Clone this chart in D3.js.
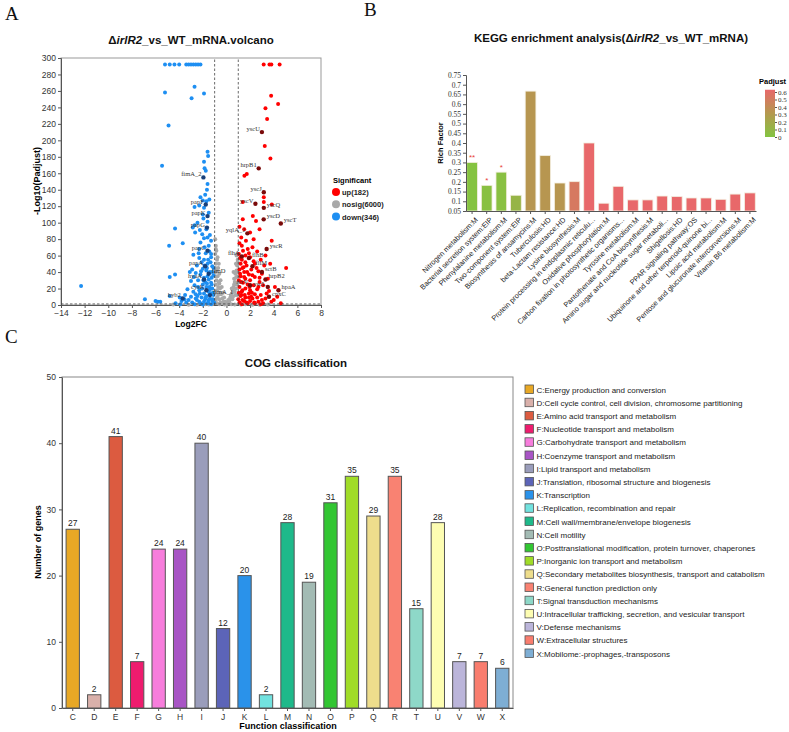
<!DOCTYPE html>
<html>
<head>
<meta charset="utf-8">
<script src="https://cdn.jsdelivr.net/npm/d3@7/dist/d3.min.js"></script>
<style>
body { margin: 0; background: #fff; }
svg { display: block; font-family: Arial, "Liberation Sans", sans-serif; }
</style>
</head>
<body>
<svg id="chart"></svg>
<script>

const W = 789;
const H = 732;

// ---------- data: A (volcano) ----------

const volXTicks = [-14, -12, -10, -8, -6, -4, -2, 0, 2, 4, 6, 8];
const volYTicks = [0, 20, 40, 60, 80, 100, 120, 140, 160, 180, 200, 220, 240, 260, 280, 300];

const downPts = [
    [-5.2,292],[-4.8,292],[-4.4,292],[-4.0,292],[-3.4,292],[-3.2,292],[-3.0,292],[-2.8,292],[-2.6,292],[-2.4,292],[-2.2,292],
    [-5.2,258],[-2.7,265],[-2.95,251],[-1.9,257],[-4.9,218],[-1.6,186],[-1.55,181],[-1.9,174],[-5.45,169],[-1.85,166],
    [-1.75,163],[-1.6,147],[-1.8,134],[-1.45,128],[-2.0,127],[-1.7,126],[-2.7,119],[-2.3,121],[-1.9,118],[-2.0,110],
    [-1.95,105],[-1.6,101],[-2.7,97],[-2.85,94],[-4.35,93],[-2.25,91],[-2.65,88],[-1.6,82],[-1.9,81],[-1.4,85],
    [-3.7,75],[-2.2,76],[-4.85,72],[-1.5,72],[-2.3,68],[-1.75,63],[-1.45,65],[-2.8,61],[-2.3,57],[-1.9,55],[-1.3,58],
    [-2.1,52],[-1.6,50],[-2.5,48],[-1.2,47],[-2.9,43],[-2.0,44],[-1.7,42],[-1.4,40],[-3.1,40],[-2.6,39],[-2.2,37],
    [-1.1,36],[-4.35,37],[-4.8,34],[-1.9,33],[-1.5,31],[-2.4,30],[-3.0,29],[-1.3,27],[-2.0,25],[-2.7,24],[-1.7,22],
    [-1.2,20],[-12.3,23],[-3.3,19],[-2.3,18],[-1.5,16],[-1.9,14],[-2.6,13],[-1.1,12],[-4.8,11],[-3.0,10],[-2.1,9],
    [-3.95,9],[-1.4,8],[-1.8,7],[-6.9,7],[-3.55,7],[-2.5,6],[-1.2,5],[-6.0,5],[-5.8,4],[-5.6,4],[-3.8,5],[-3.4,3],
    [-2.9,3],[-2.2,2],[-1.6,2],[-4.3,2],[-1.3,1],[-2.7,1],[-3.9,1],[-2.0,0.5],[-1.05,3],[-1.15,15],[-1.25,25],
    [-1.1,45],[-1.35,52],[-1.6,35],[-1.8,28],[-2.4,22],[-1.4,19],[-2.8,16],[-3.5,12],[-1.7,11],[-2.3,4],[-1.5,6],
    [-1.3,62],[-1.55,55],[-1.85,48],[-2.15,41],[-1.25,33],[-1.65,26],[-2.05,20],[-1.35,14],[-1.75,9],[-2.45,11],
    [-1.15,7],[-1.55,3],[-2.6,8],[-3.2,6],[-1.9,4],[-2.25,14],[-1.45,22],[-1.95,30],[-2.75,34],[-1.2,40],
    [-1.65,45],[-2.35,63],[-1.85,70],[-1.3,78],[-2.05,86],[-1.7,92],[-2.45,100],[-1.5,112],[-2.2,131],[-1.65,140]
];

const upPts = [
    [3.15,292],[3.64,292],[3.8,292],[4.5,292],[3.78,254],[4.37,244],[3.3,239],[3.44,226],[3.24,193],[3.72,178],
    [1.72,159],[1.52,157],[3.84,122],[3.16,131],[3.16,125],[1.38,125],[2.23,108],[2.5,102],[1.38,104],[1.5,92],[3.83,78],
    [1.1,75],[1.3,72],[1.8,68],[2.2,70],[2.6,65],[1.05,62],[1.6,60],[2.0,58],[2.9,55],[1.3,55],[1.2,50],[2.4,50],
    [1.7,48],[3.2,48],[5.05,45],[1.1,43],[2.1,43],[2.7,41],[1.5,40],[1.9,37],[3.0,38],[1.2,35],[2.4,34],[1.6,32],
    [3.5,32],[1.05,30],[2.0,30],[2.8,28],[1.4,27],[1.8,25],[2.3,24],[3.1,24],[4.1,22],[1.1,22],[1.6,20],[2.6,19],
    [2.0,18],[3.6,17],[1.3,16],[1.9,14],[2.4,13],[2.9,12],[4.3,10],[1.2,11],[1.6,9],[2.2,8],[3.3,8],[1.0,7],
    [1.5,5],[2.0,5],[2.7,4],[3.8,4],[1.1,3],[1.8,2],[2.4,2],[3.1,2],[4.6,2],[1.3,1],[2.9,1],[1.15,38],[1.45,46],
    [2.8,33],[1.25,12],[3.4,14],[2.1,10],[1.7,3],[4.0,6],
    [1.4,66],[1.9,63],[1.15,57],[2.3,53],[1.6,52],[1.35,45],[2.55,45],[1.75,40],[1.25,28],[2.2,36],[1.5,34],
    [1.95,22],[2.7,22],[1.35,18],[2.15,15],[1.55,12],[1.05,15],[1.9,9],[2.6,9],[1.35,6],[2.35,3],[3.0,6],
    [1.25,82],[1.65,78],[2.0,88],[2.8,92],[1.1,95],[2.3,80],[3.3,60],[3.7,50]
];

const nosigPts = [
    [-0.95,80],[-0.9,72],[-0.85,66],[-0.95,62],[-0.8,55],[-0.9,50],[-0.7,45],[-0.85,42],[-0.6,38],[-0.75,35],
    [-0.5,30],[-0.65,28],[-0.9,25],[-0.4,22],[-0.55,20],[-0.8,18],[-0.3,15],[-0.45,13],[-0.7,12],[-0.2,9],
    [-0.35,8],[-0.6,7],[-0.9,6],[-0.1,4],[-0.25,4],[-0.5,3],[-0.8,2],[0,1],[0.1,3],[0.25,5],[0.15,6],[0.35,10],
    [0.3,8],[0.45,14],[0.55,18],[0.4,12],[0.6,22],[0.7,28],[0.65,25],[0.8,33],[0.75,38],[0.85,42],[0.9,48],
    [0.95,55],[0.85,60],[0.95,52],[0.7,16],[0.5,7],[0.9,12],[0.8,20],[-0.95,35],[-0.95,15],[-1.2,1],[-1.5,0.5],
    [-2.5,0.3],[-3.2,0.2],[1.2,0.5],[1.6,0.8],[2.2,0.4],[2.8,0.3],[3.5,0.5],[-0.15,0.5],[0.4,1],[-0.6,0.8],
    [0.7,0.6],[-4.5,0.6],[-1.8,0.8],[-0.75,58],[-0.9,68],[0.9,35],[-0.65,50],[0.6,40],[0.2,2],[-0.3,2],
    [-0.85,30],[-0.7,22],[-0.55,14],[-0.8,9],[0.55,10],[0.75,12],[0.85,25],[0.65,32],[0.95,40],[-0.9,40],
    [-0.95,45],[0.9,62],[0.8,50],[-0.6,26],[0.45,20]
];

const upGenes = ["yscU", "hrpB1", "yscJ", "yscV", "yscQ", "yscD", "yscT", "yqlA_1", "yscR", "flhA", "flhB", "fliM", "sctB", "hrpB2", "sctV", "yscL", "hpaA", "cpxC"];
const upGeneX = [3.0, 2.73, 3.16, 2.45, 3.16, 3.15, 4.6, 1.77, 3.4, 1.3, 1.9, 2.2, 3.0, 3.3, 2.0, 3.5, 4.4, 3.6];
const upGeneY = [210, 166, 137, 123, 118, 104, 99, 87, 68, 59, 57, 47, 40, 31, 24, 22, 18, 10];
const upGeneSide = ["L", "L", "L", "L", "R", "R", "R", "L", "R", "L", "R", "R", "R", "R", "L", "L", "R", "R"];

const downGenes = ["fimA_2", "papF", "papK", "papG", "papC", "papA", "fimD", "hyaA", "cysK", "fimA_1", "hyb2"];
const downGeneX = [-1.95, -1.75, -1.6, -1.65, -1.6, -1.8, -1.5, -1.9, -1.7, -1.4, -3.7];
const downGeneY = [155, 122, 108, 94, 66, 47, 38, 31, 18, 12, 8];
const downGeneSide = ["L", "L", "L", "L", "L", "L", "R", "L", "L", "R", "L"];

const sigNames = ["up(182)", "nosig(6000)", "down(346)"];
const sigColors = ["#ff0000", "#a9a9a9", "#1e8ff2"];

// ---------- data: B (KEGG) ----------

const keggTerms = [
    "Nitrogen metabolism:M",
    "Bacterial secretion system:EIP",
    "Phenylalanine metabolism:M",
    "Two-component system:EIP",
    "Biosynthesis of ansamycins:M",
    "Tuberculosis:HD",
    "beta-Lactam resistance:HD",
    "Lysine biosynthesis:M",
    "Protein processing in endoplasmic reticulu...",
    "Oxidative phosphorylation:M",
    "Carbon fixation in photosynthetic organisms...",
    "Tyrosine metabolism:M",
    "Pantothenate and CoA biosynthesis:M",
    "Amino sugar and nucleotide sugar metaboli...",
    "Shigellosis:HD",
    "PPAR signaling pathway:OS",
    "Ubiquinone and other terpenoid-quinone bi...",
    "Lipoic acid metabolism:M",
    "Pentose and glucuronate interconversions:M",
    "Vitamin B6 metabolism:M"
];
const richFactor = [0.30, 0.182, 0.25, 0.131, 0.667, 0.335, 0.194, 0.201, 0.40, 0.09, 0.177, 0.107, 0.107, 0.127, 0.124, 0.117, 0.117, 0.11, 0.137, 0.143];
const padjust = [0.004, 0.03, 0.03, 0.12, 0.33, 0.33, 0.33, 0.52, 0.63, 0.63, 0.63, 0.63, 0.63, 0.63, 0.63, 0.63, 0.63, 0.63, 0.63, 0.63];
const stars = ["**", "*", "*", "", "", "", "", "", "", "", "", "", "", "", "", "", "", "", "", ""];
const richTicks = [0.05, 0.1, 0.15, 0.2, 0.25, 0.3, 0.35, 0.4, 0.45, 0.5, 0.55, 0.6, 0.65, 0.7, 0.75];
const padjTicks = [0, 0.1, 0.2, 0.3, 0.4, 0.5, 0.6];

// ---------- data: C (COG) ----------

const cogCodes = ["C", "D", "E", "F", "G", "H", "I", "J", "K", "L", "M", "N", "O", "P", "Q", "R", "T", "U", "V", "W", "X"];
const cogCounts = [27, 2, 41, 7, 24, 24, 40, 12, 20, 2, 28, 19, 31, 35, 29, 35, 15, 28, 7, 7, 6];
const cogColors = ["#e8a825", "#d9b0aa", "#dc5b40", "#ee1c6e", "#f77ddc", "#a855c5", "#9a9dbb", "#5c64b8", "#2a92ea", "#72e2df",
    "#1eb98a", "#a3bbb4", "#32c632", "#a0dc28", "#eedd8c", "#f98272", "#8ed8c8", "#fdfdb2", "#bbb5da", "#f97d6e", "#7eaed4"];
const cogLabels = [
    "C:Energy production and conversion",
    "D:Cell cycle control, cell division, chromosome partitioning",
    "E:Amino acid transport and metabolism",
    "F:Nucleotide transport and metabolism",
    "G:Carbohydrate transport and metabolism",
    "H:Coenzyme transport and metabolism",
    "I:Lipid transport and metabolism",
    "J:Translation, ribosomal structure and biogenesis",
    "K:Transcription",
    "L:Replication, recombination and repair",
    "M:Cell wall/membrane/envelope biogenesis",
    "N:Cell motility",
    "O:Posttranslational modification, protein turnover, chaperones",
    "P:Inorganic ion transport and metabolism",
    "Q:Secondary metabolites biosynthesis, transport and catabolism",
    "R:General function prediction only",
    "T:Signal transduction mechanisms",
    "U:Intracellular trafficking, secretion, and vesicular transport",
    "V:Defense mechanisms",
    "W:Extracellular structures",
    "X:Mobilome:-prophages,-transposons"
];
const cogTicks = [0, 10, 20, 30, 40, 50];

const svg = d3.select("#chart")
    .attr("width", W)
    .attr("height", H)
    .attr("viewBox", `0 0 ${W} ${H}`);

// panel letters
[["A", 5, 20], ["B", 364, 16], ["C", 5, 343]].forEach(p => {
    svg.append("text")
        .attr("x", p[1])
        .attr("y", p[2])
        .attr("font-family", "'Liberation Serif', 'Times New Roman', serif")
        .attr("font-size", 19)
        .attr("fill", "#111")
        .text(p[0]);
});

function styleAxis(sel, size) {
    sel.select(".domain").attr("stroke", "#555");
    sel.selectAll(".tick line").attr("stroke", "#555");
    sel.selectAll(".tick text")
        .attr("fill", "#333")
        .attr("font-size", size);
}

// =============== A: volcano ===============

const volX = d3.scaleLinear().domain([-14, 8]).range([61, 321]);
const volY = d3.scaleLinear().domain([0, 300]).range([305, 58]);

const gA = svg.append("g");

// Title
const tA = gA.append("text")
    .attr("x", 191)
    .attr("y", 44)
    .attr("text-anchor", "middle")
    .attr("font-size", 11.5)
    .attr("font-weight", "bold")
    .attr("fill", "#111");
tA.append("tspan").text("Δ");
tA.append("tspan").attr("font-style", "italic").text("irlR2");
tA.append("tspan").text("_vs_WT_mRNA.volcano");

// Frame
gA.append("rect")
    .attr("x", volX.range()[0])
    .attr("y", volY.range()[1])
    .attr("width", volX.range()[1] - volX.range()[0])
    .attr("height", volY.range()[0] - volY.range()[1])
    .attr("fill", "none")
    .attr("stroke", "#999");

// Axis X
gA.append("g")
    .attr("transform", `translate(0,${volY.range()[0]})`)
    .call(d3.axisBottom(volX).tickValues(volXTicks).tickSize(3).tickPadding(2))
    .call(s => styleAxis(s, 8.5));

// Axis Y
gA.append("g")
    .attr("transform", `translate(${volX.range()[0]},0)`)
    .call(d3.axisLeft(volY).tickValues(volYTicks).tickSize(3).tickPadding(2))
    .call(s => styleAxis(s, 8.5));

// Labels
gA.append("text")
    .attr("x", 191)
    .attr("y", 327)
    .attr("text-anchor", "middle")
    .attr("font-size", 8.5)
    .attr("font-weight", "bold")
    .text("Log2FC");

gA.append("text")
    .attr("transform", "rotate(-90)")
    .attr("x", -181)
    .attr("y", 40)
    .attr("text-anchor", "middle")
    .attr("font-size", 9)
    .attr("font-weight", "bold")
    .text("-Log10(Padjust)");

// Points
const pointSets = [[nosigPts, sigColors[1]], [upPts, sigColors[0]], [downPts, sigColors[2]]];
pointSets.forEach(ps => {
    gA.append("g")
        .selectAll("circle")
        .data(ps[0])
        .enter()
        .append("circle")
        .attr("cx", d => volX(d[0]))
        .attr("cy", d => volY(d[1]))
        .attr("r", 2)
        .attr("fill", ps[1]);
});

// Threshold lines
const dashStyle = s => s.attr("stroke", "#444").attr("stroke-width", 0.8).attr("stroke-dasharray", "2.5,2");
[-1, 1].forEach(v => {
    gA.append("line")
        .attr("x1", volX(v)).attr("x2", volX(v))
        .attr("y1", volY(0)).attr("y2", volY(300))
        .call(dashStyle);
});
gA.append("line")
    .attr("x1", volX(-14)).attr("x2", volX(8))
    .attr("y1", volY(-Math.log10(0.05))).attr("y2", volY(-Math.log10(0.05)))
    .call(dashStyle);

// Labeled genes
function geneLabels(names, xs, ys, sides, col) {
    names.forEach((n, i) => {
        const px = volX(xs[i]);
        const py = volY(ys[i]);
        gA.append("circle")
            .attr("cx", px).attr("cy", py)
            .attr("r", 2.2)
            .attr("fill", col);
        gA.append("text")
            .attr("x", sides[i] === "L" ? px - 2 : px + 3)
            .attr("y", py - 1)
            .attr("text-anchor", sides[i] === "L" ? "end" : "start")
            .attr("font-family", "'Liberation Serif', 'Times New Roman', serif")
            .attr("font-size", 6.5)
            .attr("fill", "#333")
            .text(n);
    });
}
geneLabels(upGenes, upGeneX, upGeneY, upGeneSide, "#7a0a0a");
geneLabels(downGenes, downGeneX, downGeneY, downGeneSide, "#18407a");

// Legend
const legA = gA.append("g").attr("transform", "translate(333,0)");
legA.append("text")
    .attr("x", 0).attr("y", 183)
    .attr("font-size", 7.5)
    .attr("font-weight", "bold")
    .text("Significant");
sigNames.forEach((n, i) => {
    legA.append("circle")
        .attr("cx", 3).attr("cy", 192 + i * 12.3)
        .attr("r", 4)
        .attr("fill", sigColors[i]);
    legA.append("text")
        .attr("x", 9).attr("y", 195 + i * 12.3)
        .attr("font-size", 7.5)
        .attr("font-weight", "bold")
        .attr("fill", "#222")
        .text(n);
});

// =============== B: KEGG ===============

const gB = svg.append("g");

const tB = gB.append("text")
    .attr("x", 611)
    .attr("y", 42)
    .attr("text-anchor", "middle")
    .attr("font-size", 11.5)
    .attr("font-weight", "bold")
    .attr("fill", "#111");
tB.append("tspan").text("KEGG enrichment analysis(Δ");
tB.append("tspan").attr("font-style", "italic").text("irlR2");
tB.append("tspan").text("_vs_WT_mRNA)");

const kx = d3.scaleBand()
    .domain(keggTerms)
    .range([466, 756])
    .paddingInner(0.27)
    .paddingOuter(0.05);

const ky = d3.scaleLinear()
    .domain([0.05, 0.75])
    .range([211, 75]);

const padjColor = d3.scaleLinear()
    .domain([0, 0.32, 0.63])
    .range(["#84c441", "#b5984f", "#e8686a"]);

// Bars
gB.selectAll("rect.kegg")
    .data(keggTerms)
    .enter()
    .append("rect")
    .attr("class", "kegg")
    .attr("x", d => kx(d))
    .attr("width", kx.bandwidth())
    .attr("y", (d, i) => ky(richFactor[i]))
    .attr("height", (d, i) => ky(0.05) - ky(richFactor[i]))
    .attr("fill", (d, i) => padjColor(padjust[i]))
    .attr("stroke", "#f3eedf")
    .attr("stroke-width", 0.8);

// Stars
gB.selectAll("text.star")
    .data(keggTerms)
    .enter()
    .append("text")
    .attr("class", "star")
    .attr("x", d => kx(d) + kx.bandwidth() / 2)
    .attr("y", (d, i) => ky(richFactor[i]) - 2)
    .attr("text-anchor", "middle")
    .attr("font-size", 8)
    .attr("fill", "#e8403a")
    .text((d, i) => stars[i]);

// Axis Y
gB.append("g")
    .attr("transform", `translate(466,0)`)
    .call(d3.axisLeft(ky).tickValues(richTicks).tickSize(3).tickPadding(2).tickFormat(d3.format("~g")))
    .call(s => styleAxis(s, 7.5))
    .call(s => s.selectAll(".tick text").attr("font-family", "'Liberation Serif', 'Times New Roman', serif"));

// Axis X
const axB = gB.append("g")
    .attr("transform", `translate(0,${ky(0.05)})`)
    .call(d3.axisBottom(kx).tickSize(3).tickSizeOuter(0))
    .call(s => styleAxis(s, 7.3));
axB.selectAll(".tick text")
    .attr("text-anchor", "end")
    .attr("transform", "translate(0,2) rotate(-45)")
    .attr("dx", "-0.1em")
    .attr("dy", "0.5em")
    .attr("fill", "#222");

gB.append("text")
    .attr("transform", "rotate(-90)")
    .attr("x", -143)
    .attr("y", 443)
    .attr("text-anchor", "middle")
    .attr("font-size", 7.5)
    .attr("font-weight", "bold")
    .text("Rich Factor");

// Colour legend
const defs = svg.append("defs");
const grad = defs.append("linearGradient")
    .attr("id", "padjGrad")
    .attr("x1", 0).attr("y1", 1)
    .attr("x2", 0).attr("y2", 0);
[0, 0.32, 0.63].forEach(v => {
    grad.append("stop")
        .attr("offset", v / 0.63)
        .attr("stop-color", padjColor(v));
});

const py = d3.scaleLinear().domain([0, 0.6]).range([137, 92]);
gB.append("text")
    .attr("x", 759).attr("y", 84)
    .attr("font-size", 7.5)
    .attr("font-weight", "bold")
    .text("Padjust");
gB.append("rect")
    .attr("x", 765)
    .attr("y", py(0.63))
    .attr("width", 10)
    .attr("height", py(0) - py(0.63))
    .attr("fill", "url(#padjGrad)");
gB.append("g")
    .attr("transform", "translate(775,0)")
    .call(d3.axisRight(py).tickValues(padjTicks).tickSize(2).tickPadding(1).tickFormat(d3.format("~g")))
    .call(s => styleAxis(s, 7))
    .call(s => s.select(".domain").remove())
    .call(s => s.selectAll(".tick text").attr("font-family", "'Liberation Serif', 'Times New Roman', serif"));

// =============== C: COG ===============

const gC = svg.append("g");

gC.append("text")
    .attr("x", 296)
    .attr("y", 367)
    .attr("text-anchor", "middle")
    .attr("font-size", 11.5)
    .attr("font-weight", "bold")
    .attr("fill", "#111")
    .text("COG classification");

const cx = d3.scaleBand()
    .domain(cogCodes)
    .range([62, 513])
    .paddingInner(0.38)
    .paddingOuter(0.19);

const cy = d3.scaleLinear()
    .domain([0, 50])
    .range([708, 377]);

// Frame
gC.append("rect")
    .attr("x", cx.range()[0])
    .attr("y", cy.range()[1])
    .attr("width", cx.range()[1] - cx.range()[0])
    .attr("height", cy.range()[0] - cy.range()[1])
    .attr("fill", "none")
    .attr("stroke", "#888");

// Bars
gC.selectAll("rect.cog")
    .data(cogCodes)
    .enter()
    .append("rect")
    .attr("class", "cog")
    .attr("x", d => cx(d))
    .attr("width", cx.bandwidth())
    .attr("y", (d, i) => cy(cogCounts[i]))
    .attr("height", (d, i) => cy(0) - cy(cogCounts[i]))
    .attr("fill", (d, i) => cogColors[i])
    .attr("stroke", "#555")
    .attr("stroke-width", 1);

gC.selectAll("text.val")
    .data(cogCodes)
    .enter()
    .append("text")
    .attr("class", "val")
    .attr("x", d => cx(d) + cx.bandwidth() / 2)
    .attr("y", (d, i) => cy(cogCounts[i]) - 3)
    .attr("text-anchor", "middle")
    .attr("font-size", 8.5)
    .attr("fill", "#222")
    .text((d, i) => cogCounts[i]);

// Axis X
gC.append("g")
    .attr("transform", `translate(0,${cy(0)})`)
    .call(d3.axisBottom(cx).tickSize(3).tickSizeOuter(0))
    .call(s => styleAxis(s, 8.5));

// Axis Y
gC.append("g")
    .attr("transform", `translate(${cx.range()[0]},0)`)
    .call(d3.axisLeft(cy).tickValues(cogTicks).tickSize(3).tickSizeOuter(0))
    .call(s => styleAxis(s, 8.5));

gC.append("text")
    .attr("x", 288)
    .attr("y", 729)
    .attr("text-anchor", "middle")
    .attr("font-size", 9)
    .attr("font-weight", "bold")
    .text("Function classification");

gC.append("text")
    .attr("transform", "rotate(-90)")
    .attr("x", -542)
    .attr("y", 41)
    .attr("text-anchor", "middle")
    .attr("font-size", 9)
    .attr("font-weight", "bold")
    .text("Number of genes");

// Legend
const legC = gC.append("g").attr("transform", "translate(525,385)");
cogLabels.forEach((lab, i) => {
    legC.append("rect")
        .attr("x", 0)
        .attr("y", i * 13.2)
        .attr("width", 8.5)
        .attr("height", 8.5)
        .attr("fill", cogColors[i])
        .attr("stroke", "#555")
        .attr("stroke-width", 0.8);
    legC.append("text")
        .attr("x", 11.5)
        .attr("y", i * 13.2 + 7.5)
        .attr("font-size", 8)
        .attr("fill", "#222")
        .text(lab);
});

</script>
</body>
</html>
